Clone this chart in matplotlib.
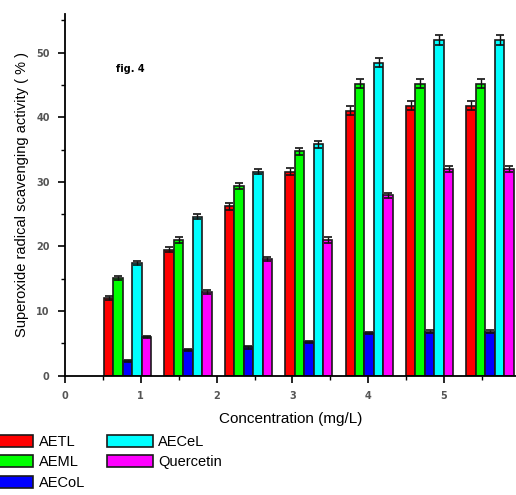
import numpy as np
import matplotlib
matplotlib.use("Agg")
import matplotlib.pyplot as plt
from matplotlib.patches import Patch

series = ["AETL", "AEML", "AECoL", "AECeL", "Quercetin"]
colors = ["#ff0000", "#00ff00", "#0000ff", "#00ffff", "#ff00ff"]

aetl = [12.0, 19.5, 26.2, 31.6, 41.0, 41.8, 41.8]
aeml = [15.1, 21.0, 29.4, 34.7, 45.2, 45.2, 45.2]
aecol = [2.3, 4.0, 4.4, 5.2, 6.6, 6.8, 6.8]
aecel = [17.4, 24.6, 31.6, 35.8, 48.4, 52.0, 52.0]
querc = [6.0, 13.0, 18.0, 21.0, 27.9, 32.0, 32.0]

err_aetl = [0.3, 0.4, 0.5, 0.5, 0.7, 0.7, 0.7]
err_aeml = [0.3, 0.4, 0.5, 0.6, 0.7, 0.7, 0.7]
err_aecol = [0.2, 0.2, 0.2, 0.2, 0.2, 0.2, 0.2]
err_aecel = [0.3, 0.4, 0.4, 0.5, 0.7, 0.8, 0.8]
err_querc = [0.2, 0.3, 0.3, 0.4, 0.4, 0.4, 0.4]

values = [aetl, aeml, aecol, aecel, querc]
errors = [err_aetl, err_aeml, err_aecol, err_aecel, err_querc]

fig = plt.figure(figsize=(5.16, 4.95), dpi=100)
ax = fig.add_axes([0.126, 0.241, 0.874, 0.731])

n = len(aetl)
bw = 0.125
starts = 0.513 + 0.797 * np.arange(n)
for i, (vals, errs, c, name) in enumerate(zip(values, errors, colors, series)):
    x = starts + bw * (i + 0.5)
    ax.bar(x, vals, width=bw, color=c, edgecolor="#1a1a1a", linewidth=1.2,
           yerr=errs, error_kw=dict(ecolor="#111111", elinewidth=1.0, capsize=3, capthick=1.2),
           label=name, zorder=2)

ax.set_xlim(0, 5.95)
ax.set_ylim(0, 56)
ax.spines["top"].set_visible(False)
ax.spines["right"].set_visible(False)
ax.spines["left"].set_linewidth(1.3)
ax.spines["bottom"].set_linewidth(1.3)

ax.set_xticks(np.arange(0, 6))
ax.set_xticks(np.arange(0.5, 6, 1), minor=True)
ax.set_yticks(np.arange(0, 51, 10))
ax.set_yticks(np.arange(5, 56, 10), minor=True)
ax.tick_params(axis="both", which="major", direction="out", length=5, width=1.2,
               labelsize=7, labelcolor="#555555", pad=6)
ax.tick_params(axis="both", which="minor", direction="out", length=3, width=1.0)
for lab in ax.get_xticklabels() + ax.get_yticklabels():
    lab.set_fontweight("bold")

ax.set_xlabel("Concentration (mg/L)", fontsize=11, family="Liberation Sans", labelpad=8)
ax.set_ylabel("Superoxide radical scavenging activity ( % )", fontsize=10.5,
              family="Liberation Sans", labelpad=5)

ax.text(0.67, 47.4, "fig. 4", fontsize=7, family=["Liberation Sans Narrow", "DejaVu Sans"],
        fontweight="bold", va="center", ha="left")

handles = [Patch(facecolor=c, edgecolor="#1a1a1a", linewidth=1.2) for c in colors]
fig.legend(handles, series, loc="upper left", bbox_to_anchor=(-0.023, 0.122), ncol=2,
           frameon=False, prop=dict(family="Liberation Sans", size=10.5),
           handlelength=3.1, handleheight=0.9, handletextpad=0.4,
           labelspacing=0.45, columnspacing=1.5, borderaxespad=0, borderpad=0)

fig.savefig("out.png", dpi=100)
